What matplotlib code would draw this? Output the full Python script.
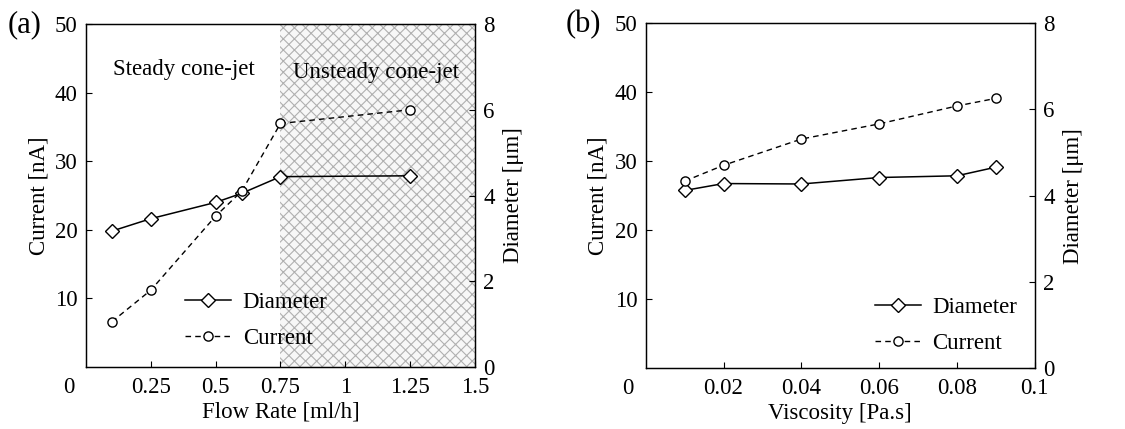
import matplotlib
matplotlib.use("Agg")
import matplotlib.pyplot as plt

plt.rcParams['font.family'] = ['Liberation Serif', 'DejaVu Serif']
plt.rcParams['hatch.linewidth'] = 0.8
plt.rcParams['hatch.color'] = '#b0b0b0'

# Panel (a)
flow_rate = [0.1, 0.25, 0.5, 0.6, 0.75, 1.25]
diam_a = [3.17, 3.46, 3.84, 4.05, 4.44, 4.46]
curr_a = [6.6, 11.2, 22.0, 25.6, 35.5, 37.5]
xticks_a = [0.25, 0.5, 0.75, 1, 1.25, 1.5]
xticklabels_a = ['0.25', '0.5', '0.75', '1', '1.25', '1.5']

# Panel (b)
viscosity = [0.01, 0.02, 0.04, 0.06, 0.08, 0.09]
diam_b = [4.12, 4.28, 4.27, 4.42, 4.46, 4.66]
curr_b = [27.1, 29.4, 33.2, 35.4, 38.0, 39.1]
xticks_b = [0.02, 0.04, 0.06, 0.08, 0.1]
xticklabels_b = ['0.02', '0.04', '0.06', '0.08', '0.1']

yticks_left = [10, 20, 30, 40, 50]
yticks_right = [0, 2, 4, 6, 8]

FS = 16.5

fig = plt.figure(figsize=(11.25, 4.29), dpi=100)
ax1 = fig.add_axes([0.0764, 0.1445, 0.3458, 0.7995])
ax2 = fig.add_axes([0.574, 0.142, 0.3458, 0.804])


def setup(ax, x, diam, curr, xmax, xticks, xticklabels, xlabel, legend_anchor):
    axr = ax.twinx()
    ax.set_xlim(0, xmax)
    ax.set_ylim(0, 50)
    axr.set_ylim(0, 8)
    ax.set_xticks(xticks)
    ax.set_xticklabels(xticklabels)
    ax.set_yticks(yticks_left)
    axr.set_yticks(yticks_right)
    for a in (ax, axr):
        a.tick_params(direction='in', labelsize=FS, length=4, width=0.8)
        for s in a.spines.values():
            s.set_linewidth(0.9)
    ax.tick_params(axis='x', pad=7)
    ax.tick_params(axis='y', pad=6)
    axr.tick_params(axis='y', pad=6)
    ax.text(-0.045, -0.03, '0', transform=ax.transAxes, fontsize=FS,
            ha='center', va='top')
    ax.set_xlabel(xlabel, fontsize=FS, labelpad=3)
    ax.set_ylabel('Current [nA]', fontsize=FS, labelpad=4)
    axr.set_ylabel('Diameter [\u03bcm]', fontsize=FS, labelpad=6)
    h1, = axr.plot(x, diam, '-', color='black', lw=1.1, marker='D',
                   ms=7.2, mfc='white', mec='black', mew=1.0,
                   label='Diameter', zorder=4)
    h2, = axr.plot(x, [c / 50 * 8 for c in curr], '--', color='black',
                   lw=1.0, dashes=(4, 3), marker='o', ms=6.6, mfc='white',
                   mec='black', mew=1.0, label='Current', zorder=4)
    axr.legend(handles=[h1, h2], loc='lower left',
               bbox_to_anchor=legend_anchor, frameon=False,
               fontsize=FS, handlelength=2.0, handletextpad=0.5,
               labelspacing=0.65, borderaxespad=0)
    return axr


axr1 = setup(ax1, flow_rate, diam_a, curr_a, 1.5, xticks_a, xticklabels_a,
             'Flow Rate [ml/h]', (0.232, 0.027))
ax1.axvspan(0.75, 1.5, facecolor='#f7f7f7', edgecolor='#b0b0b0',
            hatch='xxx', lw=0, zorder=0)
ax1.text(0.252, 0.866, 'Steady cone-jet', transform=ax1.transAxes,
         fontsize=FS, ha='center', va='center')
ax1.text(0.745, 0.86, 'Unsteady cone-jet', transform=ax1.transAxes,
         fontsize=FS, ha='center', va='center', zorder=5)

axr2 = setup(ax2, viscosity, diam_b, curr_b, 0.1, xticks_b, xticklabels_b,
             'Viscosity [Pa.s]', (0.565, 0.015))

fig.text(0.007, 0.943, '(a)', fontsize=22, ha='left', va='center')
fig.text(0.503, 0.943, '(b)', fontsize=22, ha='left', va='center')

fig.savefig('out.png', dpi=100)
